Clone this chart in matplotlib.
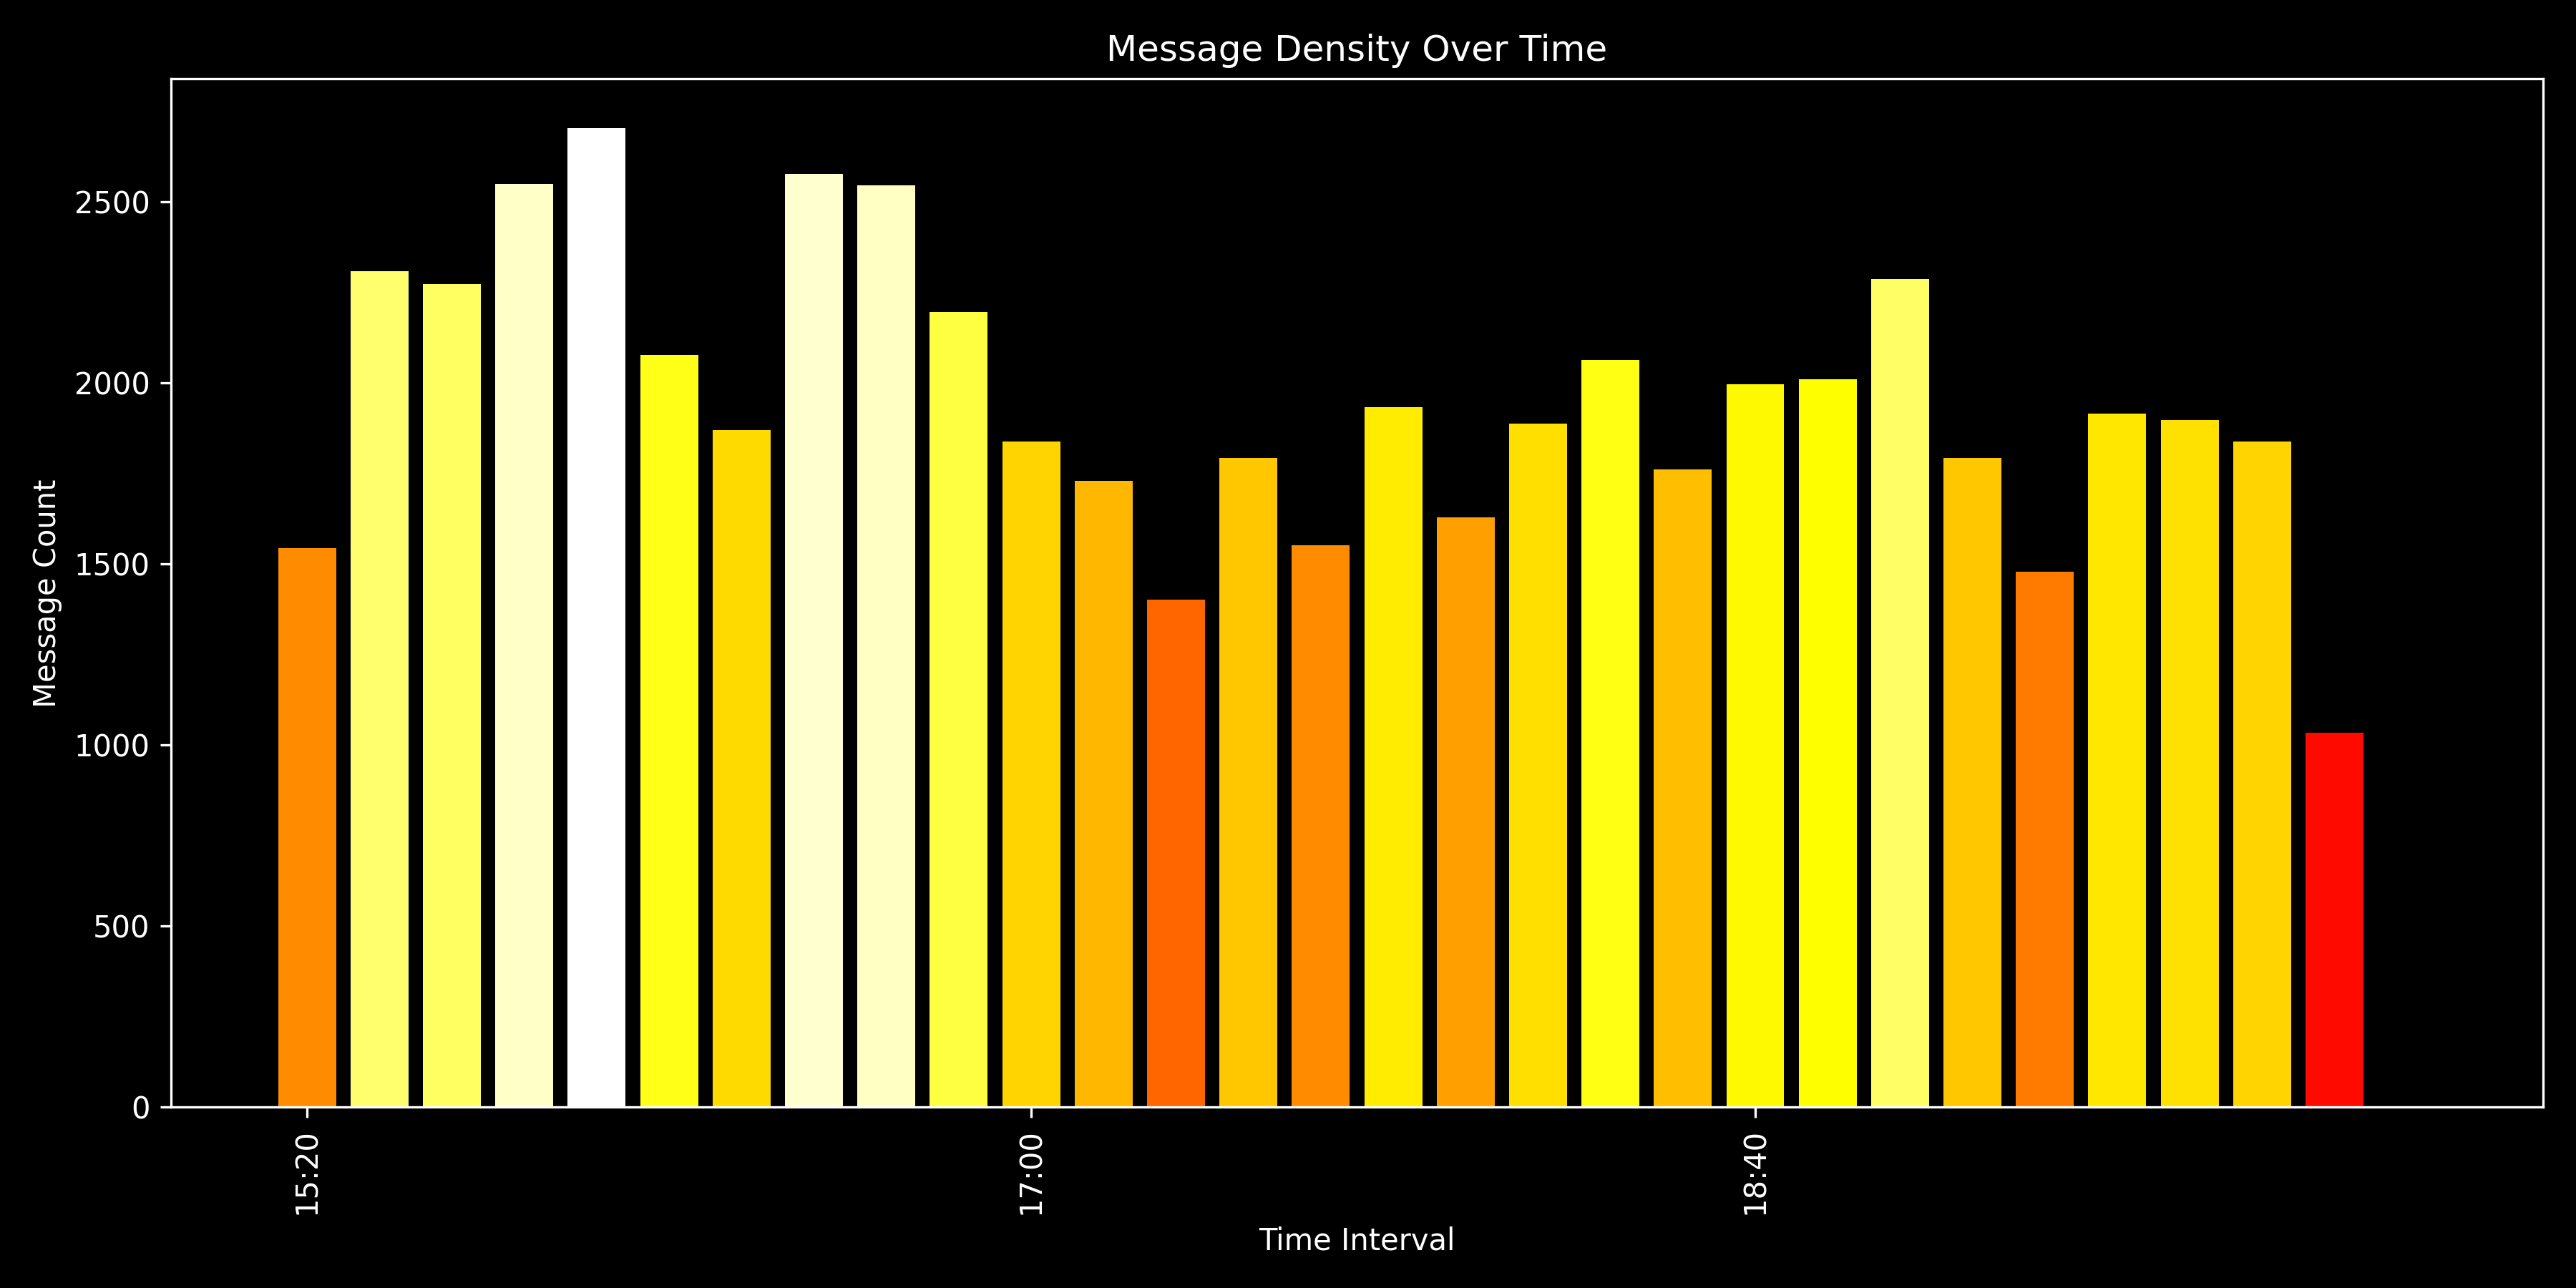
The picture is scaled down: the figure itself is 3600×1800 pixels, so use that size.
import datetime as dt
import matplotlib
matplotlib.use("Agg")
import matplotlib.pyplot as plt
import matplotlib.dates as mdates
import numpy as np

start_time = "15:20"
interval_minutes = 10
counts = [1543, 2309, 2273, 2550, 2704, 2078, 1869, 2577, 2545, 2196,
          1838, 1729, 1402, 1792, 1552, 1933, 1629, 1887, 2064, 1760,
          1996, 2010, 2287, 1792, 1479, 1915, 1897, 1838, 1034]
tick_labels = ["15:20", "17:00", "18:40"]

t0 = dt.datetime(2024, 1, 1, 15, 20)
times = [t0 + dt.timedelta(minutes=interval_minutes * i) for i in range(len(counts))]
x = mdates.date2num(times)
step = interval_minutes / 1440.0

plt.style.use("dark_background")
fig, ax = plt.subplots(figsize=(12, 6), dpi=300)
vals = np.array(counts, dtype=float)
colors = plt.cm.hot(vals / vals.max())
ax.bar(x, vals, width=0.8 * step, color=colors)

ax.set_xticks([x[0], x[10], x[20]])
ax.set_xticklabels(tick_labels, rotation=90)
ax.set_xlim(x[0] - 1.883 * step, x[0] + 30.88 * step)
ax.set_title("Message Density Over Time")
ax.set_xlabel("Time Interval")
ax.set_ylabel("Message Count")

fig.subplots_adjust(left=0.0663, right=0.9872, top=0.9388, bottom=0.1403)
fig.savefig("out.png", dpi=300)
